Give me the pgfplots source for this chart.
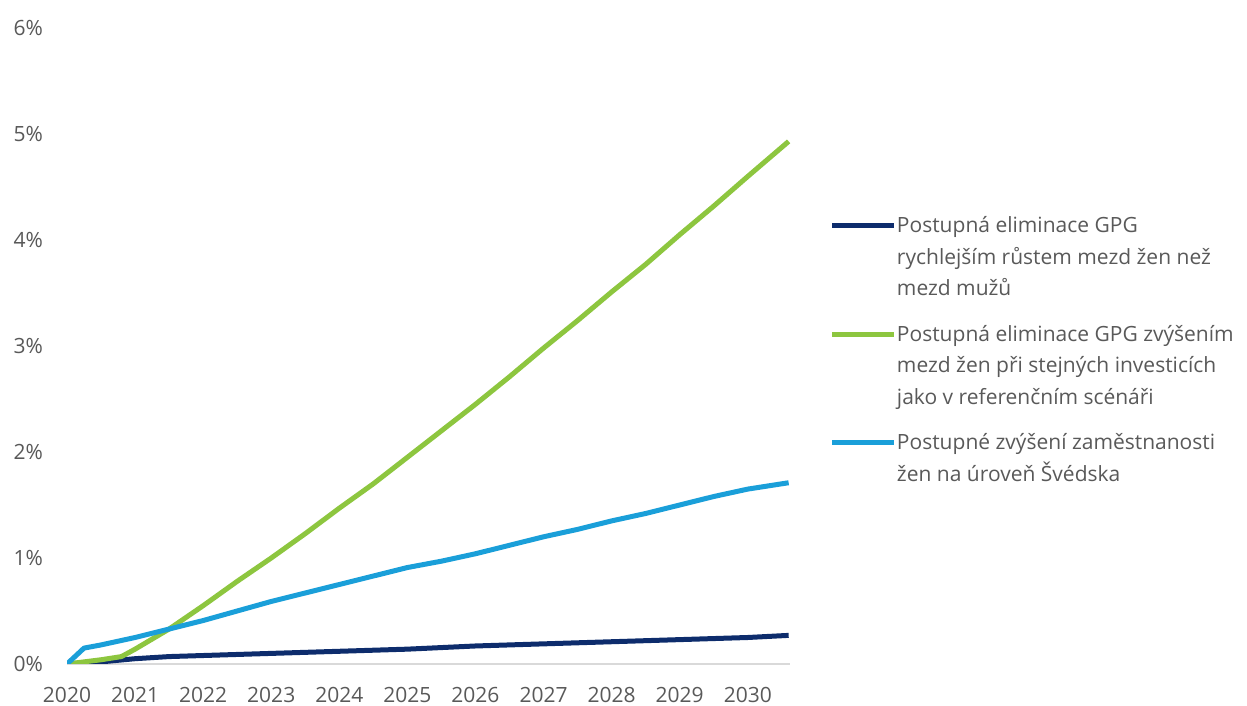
\documentclass[border=0pt]{standalone}
\usepackage{fontspec}
\setmainfont{Open Sans}
\usepackage{pgfplots}
\pgfplotsset{compat=1.18}
\definecolor{cnavy}{HTML}{0D2C6C}
\definecolor{cgreen}{HTML}{8DC63F}
\definecolor{cblue}{HTML}{1A9FD9}
\definecolor{ctext}{HTML}{595959}
\definecolor{caxis}{HTML}{D9D9D9}
% struts: one legend line is 32pt, a new entry starts 46pt lower
% (the legend cells keep their own small depth, so only the height is set)
\newcommand\ls{\rule{0pt}{26pt}}
\newcommand\lf{\rule{0pt}{40pt}}

\begin{document}
\begin{tikzpicture}
\useasboundingbox (0,0) rectangle (1247pt,706pt);
\begin{axis}[
  at={(67pt,42pt)}, anchor=south west,
  scale only axis, width=723pt, height=636pt,
  xmin=2020, xmax=2030.62, ymin=0, ymax=6,
  axis x line*=bottom, axis y line*=left,
  x axis line style={draw=caxis, line width=1.2pt},
  y axis line style={draw=none},
  major tick length=0pt,
  xtick={2020,2021,...,2030},
  xticklabel={\pgfmathprintnumber[1000 sep={},fixed,precision=0]{\tick}},
  ytick={0,1,...,6},
  yticklabel={\pgfmathprintnumber{\tick}\%},
  /pgf/number format/assume math mode=true,
  tick label style={font=\fontsize{21}{25}\selectfont, text=ctext, inner sep=0pt},
  xticklabel style={anchor=north, yshift=-23pt},
  yticklabel style={anchor=east, xshift=-24pt},
  legend style={draw=none, fill=none, inner sep=0pt, outer sep=0pt,
    at={(axis description cs:1.0553,0.7217)}, anchor=north west,
    row sep=0pt, column sep=-2pt,
    font=\fontsize{21}{32}\selectfont, text=ctext,
    cells={anchor=base west, inner sep=0pt}},
  legend image code/.code={\draw[#1, line width=5pt] (-3pt,7pt) -- (59pt,7pt);},
  every axis plot/.append style={line width=5pt, line join=round, mark=none},
]

\addplot[cnavy] coordinates {
(2020,0) (2020.5,0.02) (2021,0.05) (2021.5,0.07) (2022,0.08) (2022.5,0.09)
(2023,0.10) (2023.5,0.11) (2024,0.12) (2024.5,0.13) (2025,0.14) (2025.5,0.155)
(2026,0.17) (2026.5,0.18) (2027,0.19) (2027.5,0.20) (2028,0.21) (2028.5,0.22)
(2029,0.23) (2029.5,0.24) (2030,0.25) (2030.6,0.27)};
\addlegendentry{\ls Postupná eliminace GPG}
\addlegendimage{empty legend}
\addlegendentry{\ls rychlejším růstem mezd žen než}
\addlegendimage{empty legend}
\addlegendentry{\ls mezd mužů}

\addplot[cgreen] coordinates {
(2020,0) (2020.25,0.02) (2020.5,0.04) (2020.8,0.07) (2021,0.14) (2021.5,0.33)
(2022,0.55) (2022.5,0.78) (2023,1.00) (2023.5,1.23) (2024,1.47) (2024.5,1.70)
(2025,1.95) (2025.5,2.20) (2026,2.45) (2026.5,2.71) (2027,2.98) (2027.5,3.24)
(2028,3.51) (2028.5,3.77) (2029,4.05) (2029.5,4.32) (2030,4.60) (2030.6,4.93)};
\addlegendentry{\lf Postupná eliminace GPG zvýšením}
\addlegendimage{empty legend}
\addlegendentry{\ls mezd žen při stejných investicích}
\addlegendimage{empty legend}
\addlegendentry{\ls jako v referenčním scénáři}

\addplot[cblue] coordinates {
(2020,0) (2020.25,0.15) (2020.5,0.18) (2021,0.25) (2021.5,0.33) (2022,0.41)
(2022.5,0.50) (2023,0.59) (2023.5,0.67) (2024,0.75) (2024.5,0.83) (2025,0.91)
(2025.5,0.97) (2026,1.04) (2026.5,1.12) (2027,1.20) (2027.5,1.27) (2028,1.35)
(2028.5,1.42) (2029,1.50) (2029.5,1.58) (2030,1.65) (2030.6,1.71)};
\addlegendentry{\lf Postupné zvýšení zaměstnanosti}
\addlegendimage{empty legend}
\addlegendentry{\ls žen na úroveň Švédska}

\end{axis}
\end{tikzpicture}
\end{document}
